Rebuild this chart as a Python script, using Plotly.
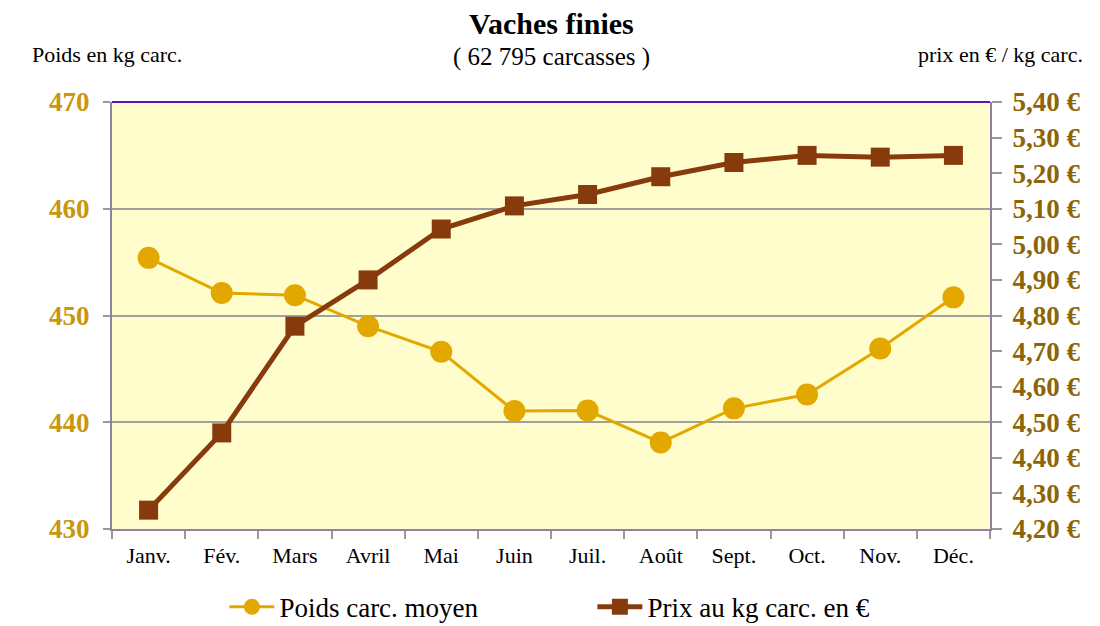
import plotly.graph_objects as go

months = ["Janv.", "Fév.", "Mars", "Avril", "Mai", "Juin", "Juil.", "Août", "Sept.", "Oct.", "Nov.", "Déc."]
poids = [455.4, 452.1, 451.9, 449.0, 446.6, 441.05, 441.1, 438.1, 441.3, 442.6, 446.9, 451.7]
prix = [4.253, 4.47, 4.77, 4.90, 5.043, 5.108, 5.14, 5.19, 5.23, 5.25, 5.245, 5.25]

FONT = "Liberation Serif"

fig = go.Figure()
fig.add_trace(go.Scatter(
    x=months, y=poids, name="Poids carc. moyen", mode="lines+markers",
    line=dict(color="#E3A800", width=3),
    marker=dict(symbol="circle", size=22, color="#E3A800"),
    yaxis="y"))
fig.add_trace(go.Scatter(
    x=months, y=prix, name="Prix au kg carc. en €", mode="lines+markers",
    line=dict(color="#873B0C", width=5),
    marker=dict(symbol="square", size=19, color="#873B0C"),
    yaxis="y2"))

fig.update_layout(
    width=1100, height=626,
    margin=dict(l=104, r=118, t=94, b=105, autoexpand=False),
    paper_bgcolor="white", plot_bgcolor="#FFFDCC",
    separators=", ",
    font=dict(family=FONT, color="black"),
    showlegend=True,
    legend=dict(orientation="h", x=0.128, xanchor="left", y=-0.126, yanchor="top",
                font=dict(size=27, family=FONT), entrywidth=308, itemwidth=45),
    xaxis=dict(showgrid=False, tickson="boundaries", ticks="outside", ticklen=8,
               tickcolor="#999999", tickwidth=2, showline=True, linecolor="#9080A8", linewidth=2,
               tickfont=dict(size=22, family=FONT), range=[-0.5, 11.5], automargin=False,
               ticklabelstandoff=6),
    yaxis=dict(range=[430, 470], dtick=10, showgrid=True, gridcolor="#A0A0A0", gridwidth=1.5,
               ticks="outside", ticklen=7, tickcolor="#999999", tickwidth=2,
               showline=True, linecolor="#9080A8", linewidth=2, zeroline=False, automargin=False,
               ticklabelstandoff=8,
               tickfont=dict(size=27, family=FONT, color="#C9960C", weight="bold")),
    yaxis2=dict(range=[4.2, 5.4], dtick=0.1, tickformat=".2f", ticksuffix=" €",
                overlaying="y", side="right", showgrid=False, automargin=False,
                ticks="outside", ticklen=10, tickcolor="#999999", tickwidth=1.5,
                showline=True, linecolor="#9080A8", linewidth=2, zeroline=False,
                ticklabelstandoff=5,
                tickfont=dict(size=27, family=FONT, color="#8B6508", weight="bold")),
)

fig.add_shape(type="line", xref="paper", yref="paper", x0=0, x1=1, y0=1, y1=1,
              line=dict(color="#6A0DAD", width=2))

fig.add_annotation(text="<b>Vaches finies</b>", xref="paper", yref="paper", x=0.5, y=1.0,
                   xanchor="center", yanchor="middle", yshift=79, showarrow=False,
                   font=dict(size=30, family=FONT))
fig.add_annotation(text="( 62 795 carcasses )", xref="paper", yref="paper", x=0.5, y=1.0,
                   xanchor="center", yanchor="middle", yshift=45, showarrow=False,
                   font=dict(size=25, family=FONT))
fig.add_annotation(text="Poids en kg carc.", xref="paper", yref="paper", x=0, y=1.0,
                   xanchor="left", yanchor="middle", xshift=-82, yshift=48, showarrow=False,
                   font=dict(size=22, family=FONT))
fig.add_annotation(text="prix en € / kg carc.", xref="paper", yref="paper", x=1, y=1.0,
                   xanchor="right", yanchor="middle", xshift=95, yshift=48, showarrow=False,
                   font=dict(size=22, family=FONT))

fig.write_html("out.html")
